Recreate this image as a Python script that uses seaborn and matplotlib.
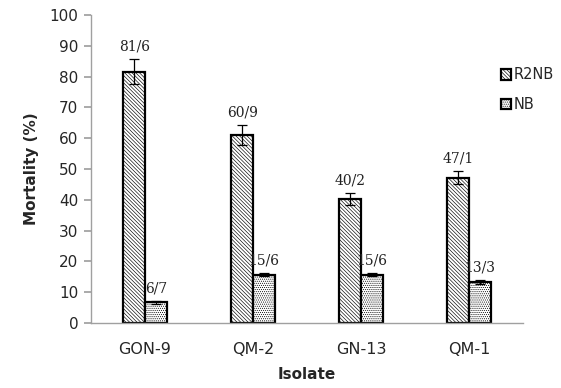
import matplotlib
matplotlib.use("Agg")
import matplotlib.pyplot as plt
from matplotlib.container import BarContainer
import seaborn as sns
import pandas as pd
import numpy as np

isolates = ["GON-9", "QM-2", "GN-13", "QM-1"]
series = ["R2NB", "NB"]
r2nb_vals = [81.6, 61.0, 40.2, 47.2]
nb_vals = [6.7, 15.7, 15.7, 13.3]
r2nb_err = [4.0, 3.2, 2.0, 2.0]
nb_err = [0.4, 0.6, 0.6, 0.6]
r2nb_labels = ["81/6", "60/9", "40/2", "47/1"]
nb_labels = ["6/7", "15/6", "15/6", "13/3"]

sns.set_theme(style="white")
plt.rcParams["font.family"] = ["DejaVu Sans"]
plt.rcParams["hatch.linewidth"] = 0.45

df = pd.DataFrame({
    "Isolate": isolates * 2,
    "Series": ["R2NB"] * 4 + ["NB"] * 4,
    "Mortality": r2nb_vals + nb_vals,
})

fig = plt.figure(figsize=(5.61, 3.88), dpi=100)
ax = fig.add_axes([91/561, 1 - 323/388, (523-91)/561, (323-15)/388])

sns.barplot(data=df, x="Isolate", y="Mortality", hue="Series", order=isolates,
            hue_order=series, ax=ax, width=0.4,
            palette=["white", "white"], edgecolor="black", linewidth=1.6,
            errorbar=None, legend=True)

hatches = ["\\" * 9, "." * 8]
containers = [c for c in ax.containers if isinstance(c, BarContainer)]
errs = [r2nb_err, nb_err]
labels = [r2nb_labels, nb_labels]
for ci, cont in enumerate(containers):
    for bi, bar in enumerate(cont.patches):
        bar.set_hatch(hatches[ci])
        bar.set_facecolor("white")
        bar.set_edgecolor("black")
        xc = bar.get_x() + bar.get_width() / 2
        h = bar.get_height()
        ax.errorbar(xc, h, yerr=errs[ci][bi], color="black", capsize=3.5,
                    elinewidth=0.9, capthick=0.9, zorder=5)
        ax.text(xc, h + errs[ci][bi] + 1.8, labels[ci][bi], ha="center",
                va="bottom", fontsize=10, family="DejaVu Serif", color="#222222")

ax.set_ylim(0, 100)
ax.set_xlim(-0.5, 3.5)
ax.set_yticks(range(0, 101, 10))
ax.tick_params(axis="y", labelsize=11, length=5, color="#a0a0a0", direction="out", left=True, pad=4)
ax.tick_params(axis="x", labelsize=11.5, length=0, pad=14)
for s in ["top", "right"]:
    ax.spines[s].set_visible(False)
for s in ["left", "bottom"]:
    ax.spines[s].set_color("#a0a0a0")
    ax.spines[s].set_linewidth(1.0)
ax.set_ylabel("Mortality (%)", fontsize=11, fontweight="bold", labelpad=8)
ax.set_xlabel("Isolate", fontsize=11, fontweight="bold", labelpad=7)

handles, lbls = ax.get_legend_handles_labels()
for hdl, ht in zip(handles, hatches):
    hdl.set_hatch(ht)
    hdl.set_edgecolor("black")
    hdl.set_facecolor("white")
ax.legend(handles, lbls, loc="upper left", bbox_to_anchor=(0.948, 0.83),
          frameon=False, fontsize=10.5, handlelength=0.75, handleheight=0.75,
          handletextpad=0.15, labelspacing=1.0, borderaxespad=0, borderpad=0)

fig.savefig("out.png", dpi=100)
